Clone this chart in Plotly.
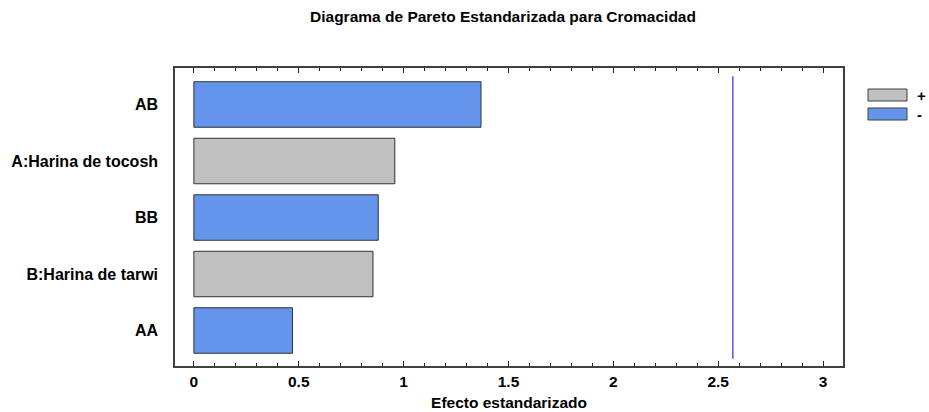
import plotly.graph_objects as go

# Data
factors = ["AB", "A:Harina de tocosh", "BB", "B:Harina de tarwi", "AA"]
effects = [1.369, 0.958, 0.879, 0.854, 0.470]
signs = ["-", "+", "-", "+", "-"]
critical_value = 2.57
x_ticks = [0, 0.5, 1, 1.5, 2, 2.5, 3]
x_tick_labels = ["0", "0.5", "1", "1.5", "2", "2.5", "3"]
legend_labels = ["+", "-"]

COLORS = {"+": "#C0C0C0", "-": "#6495ED"}
FONT = "Liberation Sans, Arial, sans-serif"

W, H = 929, 412
L, R, T, B = 175, 86, 68, 46
PW, PH = W - L - R, H - T - B

ypos = list(range(len(factors) - 1, -1, -1))

fig = go.Figure()
fig.add_trace(go.Bar(
    x=effects,
    y=ypos,
    orientation="h",
    width=0.805,
    marker=dict(color=[COLORS[s] for s in signs], line=dict(color="#303030", width=1)),
    showlegend=False,
    hoverinfo="x",
))

fig.add_shape(type="line", x0=critical_value, x1=critical_value, y0=-0.5, y1=4.5,
              xref="x", yref="y", line=dict(color="#0000EE", width=1))

# custom legend (wide swatches like the original)
for i, lbl in enumerate(legend_labels):
    top_px = 89 + i * 19
    bot_px = top_px + 12
    y_top = 1 - (top_px - T) / PH
    y_bot = 1 - (bot_px - T) / PH
    fig.add_shape(type="rect", xref="paper", yref="paper",
                  x0=(868 - L) / PW, x1=(907 - L) / PW, y0=y_bot, y1=y_top,
                  line=dict(color="#404040", width=1), fillcolor=COLORS[lbl])
    fig.add_annotation(xref="paper", yref="paper", x=(915 - L) / PW, y=(y_top + y_bot) / 2,
                       text=f"<b>{lbl}</b>", showarrow=False, xanchor="left", yanchor="middle",
                       font=dict(size=15, color="black", family=FONT))

fig.update_layout(
    width=W, height=H,
    margin=dict(l=L, r=R, t=T, b=B, autoexpand=False),
    paper_bgcolor="white", plot_bgcolor="white",
    font=dict(family=FONT, color="black"),
    title=dict(text="<b>Diagrama de Pareto Estandarizada para Cromacidad</b>",
               x=503 / W, xanchor="center", y=1 - 17 / H, yanchor="middle",
               font=dict(size=15.5, family=FONT, color="black")),
    xaxis=dict(
        range=[-0.09, 3.095],
        tickvals=x_ticks, ticktext=[f"<b>{t}</b>" for t in x_tick_labels],
        ticks="inside", ticklen=5, tickwidth=1, tickcolor="#202020",
        minor=dict(dtick=0.1, ticks="inside", ticklen=3, tickcolor="#202020", tick0=0),
        showline=True, linecolor="#404040", linewidth=1.5, mirror="ticks",
        showgrid=False, zeroline=False, automargin=False,
        tickfont=dict(size=15.5, family=FONT, color="black"),
        ticklabelstandoff=1,
        title=dict(text="<b>Efecto estandarizado</b>", font=dict(size=15.5, family=FONT, color="black"), standoff=8),
    ),
    yaxis=dict(
        range=[-0.628, 4.646],
        tickvals=ypos, ticktext=[f"<b>{f}</b>" for f in factors],
        ticks="", showline=True, linecolor="#404040", linewidth=1.5, mirror=True,
        showgrid=False, zeroline=False, automargin=False,
        tickfont=dict(size=16, family=FONT, color="black"),
        ticklabelstandoff=12,
    ),
)

fig.write_html(
    "out.html",
    config={"displayModeBar": False},
    post_script="document.body.style.margin='0';document.body.style.overflow='hidden';",
)
